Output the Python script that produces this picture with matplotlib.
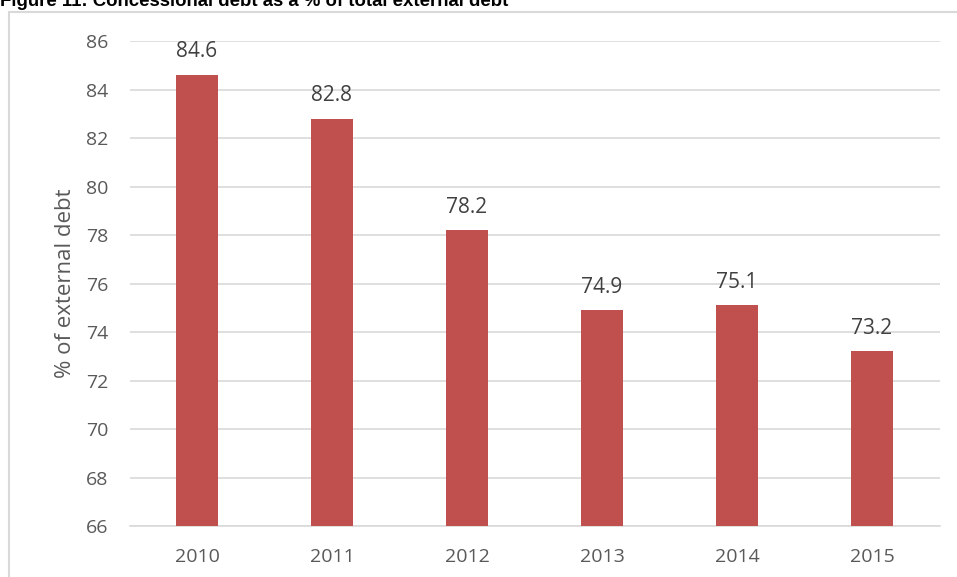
import matplotlib.pyplot as plt
from matplotlib.patches import Rectangle

years = ["2010", "2011", "2012", "2013", "2014", "2015"]
share = [84.6, 82.8, 78.2, 74.9, 75.1, 73.2]
y_ticks = [66, 68, 70, 72, 74, 76, 78, 80, 82, 84, 86]

plt.rcParams["font.family"] = ["Open Sans", "DejaVu Sans"]

fig = plt.figure(figsize=(9.57, 5.77), dpi=100)
W, H = 957, 577

# light frame around the chart area (runs off the right and bottom edges)
fig.patches.append(Rectangle((9 / W, -0.05), 1.1, 1.05 - 12 / H, transform=fig.transFigure,
                             fill=False, edgecolor="#d9d9d9", linewidth=1.5))

# heading, clipped at the top edge of the page
fig.text(0, 1 - 6 / H, "Figure 11: Concessional debt as a % of total external debt",
         fontsize=13.4, fontweight="bold", family="Liberation Sans", va="baseline", ha="left")

ax = fig.add_axes([129.5 / W, 1 - 526 / H, 810 / W, 485 / H])
x = range(len(years))
ax.bar(x, share, width=0.31, color="#C0504D", zorder=3)
for xi, v in zip(x, share):
    ax.annotate(f"{v:.1f}", (xi, v), xytext=(0, 9), textcoords="offset points",
                ha="center", va="bottom", fontsize=15, color="#404040")

ax.set_xlim(-0.5, len(years) - 0.5)
ax.set_ylim(66, 86)
ax.set_yticks(y_ticks)
ax.set_xticks(list(x))
ax.set_xticklabels(years)
ax.yaxis.grid(True, color="#d9d9d9", linewidth=1.2, zorder=0)
for side in ["top", "right", "left"]:
    ax.spines[side].set_visible(False)
ax.spines["bottom"].set_color("#d9d9d9")
ax.spines["bottom"].set_linewidth(1.2)
ax.tick_params(axis="both", length=0, labelsize=14, labelcolor="#595959")
ax.tick_params(axis="y", pad=15)
ax.tick_params(axis="x", pad=16)
ax.set_ylabel("% of external debt", fontsize=16, color="#595959", labelpad=7)

fig.savefig("out.png", dpi=100)
